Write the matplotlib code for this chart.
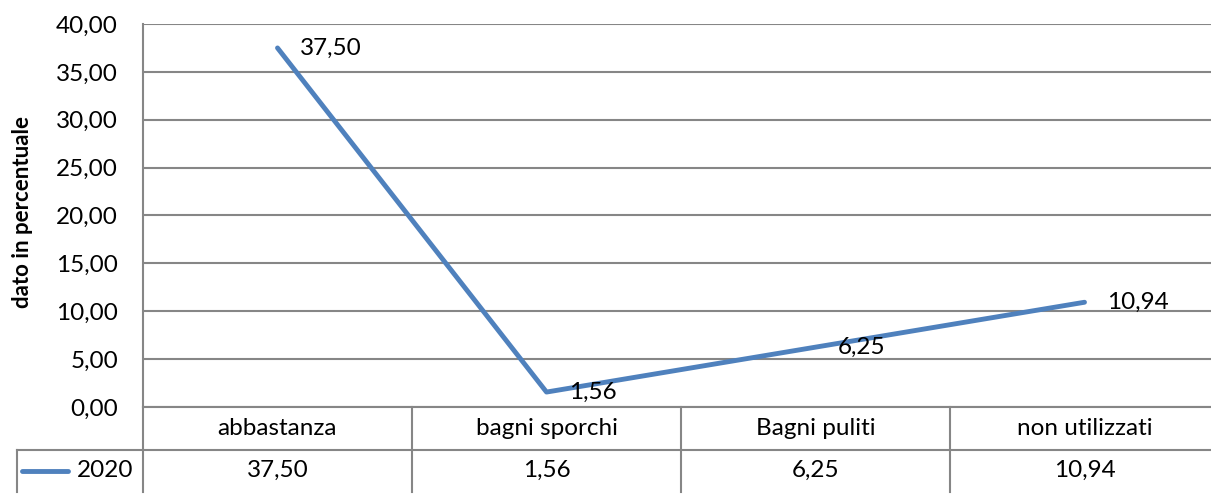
import matplotlib.pyplot as plt

# categorie e valori percentuali 2020
categorie = ['abbastanza', 'bagni sporchi', 'Bagni puliti', 'non utilizzati']
valori = [37.50, 1.56, 6.25, 10.94]
serie = '2020'
tick_y = [0, 5, 10, 15, 20, 25, 30, 35, 40]

blu = '#4F81BD'
grigio = '#868686'
plt.rcParams['font.family'] = ['Lato', 'DejaVu Sans']
fs = 17.5

def virgola(v):
    return ('%.2f' % v).replace('.', ',')

W, H = 1211, 495
fig = plt.figure(figsize=(W / 100, H / 100), dpi=100)
x0, x1 = 143, 1219
ax = fig.add_axes([x0 / W, 1 - 407 / H, (x1 - x0) / W, (407 - 24) / H])

xs = list(range(len(categorie)))
ax.plot(xs, valori, color=blu, lw=3.5, solid_capstyle='round', zorder=3)
for x, v in zip(xs, valori):
    ax.annotate(virgola(v), (x, v), xytext=(16, 0), textcoords='offset points',
                va='center', ha='left', fontsize=fs)

ax.set_xlim(-0.5, len(categorie) - 0.5)
ax.set_ylim(0, 40)
ax.set_yticks(tick_y)
ax.set_yticklabels([virgola(t) for t in tick_y], fontsize=fs)
ax.tick_params(axis='y', length=0, pad=18)
ax.set_xticks([])
ax.grid(axis='y', color=grigio, lw=1.5)
ax.set_axisbelow(True)
for s in ['top', 'right', 'bottom']:
    ax.spines[s].set_visible(False)
ax.spines['left'].set_color(grigio)
ax.spines['left'].set_linewidth(1.5)
ax.set_ylabel('dato in percentuale', fontsize=16, fontweight='bold')
ax.yaxis.set_label_coords(-(143 - 33) / (x1 - x0), 0.51)

# tabella dati sotto il grafico
tab = fig.add_axes([x0 / W, 1 - 492 / H, (x1 - x0) / W, (492 - 407) / H])
tab.set_xlim(-0.5, len(categorie) - 0.5)
tab.set_ylim(0, 2)
tab.axis('off')
sx = -0.5 - (x0 - 17) / 269
kw = dict(color=grigio, lw=1.5, clip_on=False)
tab.plot([-0.5, len(categorie) - 0.5], [2, 2], **kw)
tab.plot([sx, len(categorie) - 0.5], [1, 1], **kw)
tab.plot([sx, sx], [0, 1], **kw)
for i in range(len(categorie) + 1):
    tab.plot([i - 0.5, i - 0.5], [0, 2], **kw)
for i, (c, v) in enumerate(zip(categorie, valori)):
    tab.text(i, 1.5, c, ha='center', va='center', fontsize=fs)
    tab.text(i, 0.5, virgola(v), ha='center', va='center', fontsize=fs)
tab.plot([sx + 0.02, sx + 0.19], [0.5, 0.5], color=blu, lw=3.5,
         solid_capstyle='round', clip_on=False)
tab.text(-0.535, 0.5, serie, ha='right', va='center', fontsize=fs)

fig.savefig('out.png', dpi=100)
